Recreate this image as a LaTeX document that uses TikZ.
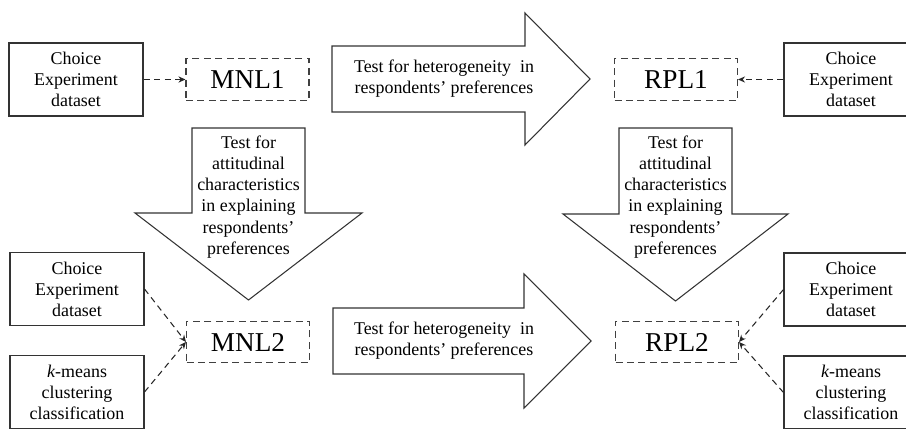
\documentclass[tikz,border=0pt]{standalone}
\usepackage{fontspec}
\setmainfont{Liberation Serif}
\usetikzlibrary{arrows.meta}
\begin{document}
\begin{tikzpicture}[x=0.02cm, y=-0.02cm, line width=0.6pt,
    every node/.style={font=\fontsize{10.2}{12}\selectfont, align=center, inner sep=0pt},
    databox/.style={draw=black!80, minimum width=2.68cm, minimum height=1.46cm},
    modelbox/.style={draw=black!75, dash pattern=on 4pt off 2.5pt, minimum width=2.46cm, minimum height=0.83cm, font=\fontsize{15.5}{18}\selectfont},
    bigarrow/.style={draw=black!80, line join=miter},
    link/.style={draw=black!85, dash pattern=on 3.5pt off 2.5pt, -{Stealth[length=4pt, width=3.5pt]}}]
    \useasboundingbox (0,0) rectangle (906,429);

    % Draw big arrows
    \draw[bigarrow] (332,46) -- (525,46) -- (525,13) -- (590,79) -- (525,145) -- (525,112) -- (332,112) -- cycle;
    \draw[bigarrow] (333,308) -- (524,308) -- (524,274) -- (591,341) -- (524,408) -- (524,374) -- (333,374) -- cycle;
    \draw[bigarrow] (192,128) -- (305,128) -- (305,213) -- (362,213) -- (248.5,300) -- (135,213) -- (192,213) -- cycle;
    \draw[bigarrow] (619,128) -- (732,128) -- (732,214) -- (788,214) -- (675.5,301) -- (563,214) -- (619,214) -- cycle;

    % Add arrow texts
    \node (het1) at (444,79) {Test for heterogeneity\ \ in\\respondents' preferences};
    \node (het2) at (444,341) {Test for heterogeneity\ \ in\\respondents' preferences};
    \node (att1) at (248.5,197) {Test for\\attitudinal\\characteristics\\in explaining\\respondents'\\preferences};
    \node (att2) at (675.5,197) {Test for\\attitudinal\\characteristics\\in explaining\\respondents'\\preferences};

    % Add data boxes
    \node[databox] (ce1) at (76,79.5) {Choice\\Experiment\\dataset};
    \node[databox] (ce2) at (851,79.5) {Choice\\Experiment\\dataset};
    \node[databox] (ce3) at (77,289) {Choice\\Experiment\\dataset};
    \node[databox] (km1) at (77,392) {\textit{k}-means\\clustering\\classification};
    \node[databox] (ce4) at (851,289.5) {Choice\\Experiment\\dataset};
    \node[databox] (km2) at (851,392.5) {\textit{k}-means\\clustering\\classification};

    % Add model boxes
    \node[modelbox] (mnl1) at (247.5,79.5) {MNL1};
    \node[modelbox] (rpl1) at (676,79.5) {RPL1};
    \node[modelbox] (mnl2) at (248,342) {MNL2};
    \node[modelbox] (rpl2) at (677,342) {RPL2};

    % Connect data to models
    \draw[link] (ce1) -- (mnl1);
    \draw[link] (ce2) -- (rpl1);
    \draw[link] (ce3.east) -- (mnl2.west);
    \draw[link] (km1.east) -- (mnl2.west);
    \draw[link] (ce4.west) -- (rpl2.east);
    \draw[link] (km2.west) -- (rpl2.east);
\end{tikzpicture}
\end{document}
